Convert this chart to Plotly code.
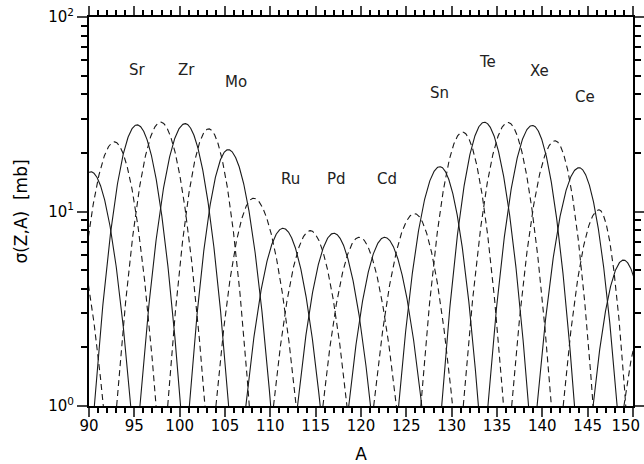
import numpy as np
import plotly.graph_objects as go

# Isotopic distributions: one curve per element (Z)
elements = ["Br", "Kr", "Rb", "Sr", "Y", "Zr", "Nb", "Mo", "Tc", "Ru", "Rh", "Pd", "Ag",
            "Cd", "In", "Sn", "Sb", "Te", "I", "Xe", "Cs", "Ba", "La", "Ce", "Pr"]
peak_A = [87.6, 90.2, 92.8, 95.3, 97.9, 100.6, 103.2, 105.35, 108.15, 111.4, 114.4, 117.0, 119.8,
          122.6, 125.9, 128.7, 131.2, 133.6, 136.2, 138.9, 141.4, 144.05, 146.25, 148.95, 152.5]
peak_sigma = [8.9, 16.0, 22.8, 27.9, 28.8, 28.3, 26.6, 20.8, 11.7, 8.2, 7.97, 7.73, 7.37,
              7.37, 9.75, 17.0, 25.6, 28.8, 28.7, 27.7, 23.1, 16.8, 10.2, 5.63, 3.9]
width_left = [4.2, 4.4, 4.8, 4.71, 4.85, 4.98, 4.52, 4.28, 4.15, 4.1, 4.05, 4.0, 4.0,
              3.95, 4.5, 4.55, 4.6, 4.7, 4.92, 4.9, 4.78, 4.63, 3.95, 3.35, 3.5]
width_right = [3.98, 4.4, 4.6, 4.8, 4.89, 4.8, 4.48, 4.69, 4.7, 4.1, 4.05, 4.05, 4.1,
               4.1, 4.2, 4.25, 4.52, 4.88, 4.8, 4.65, 4.2, 4.2, 2.95, 3.35, 3.5]
dashed = [True, False, True, False, True, False, True, False, True, False, True, False, True,
          False, True, False, True, False, True, False, True, False, True, False, True]

# Element labels shown on the chart
label_text = ["Sr", "Zr", "Mo", "Ru", "Pd", "Cd", "Sn", "Te", "Xe", "Ce"]
label_A = [95.4, 100.7, 106.2, 112.2, 117.35, 122.9, 128.7, 133.9, 139.7, 144.7]
label_sigma = [53.6, 53.6, 46.5, 14.7, 14.7, 14.7, 40.8, 58.9, 53.0, 38.9]

x_ticks = list(range(90, 151, 5))
x_ticktext = [str(v) for v in x_ticks[:-1]] + ["150\u00a0\u00a0\u00a0"]
y_ticks = [1, 10, 100]
y_ticktext = ["10<sup>0</sup>", "10<sup>1</sup>", "10<sup>2</sup>"]

fig = go.Figure()
for name, c, h, wl, wr, d in zip(elements, peak_A, peak_sigma, width_left, width_right, dashed):
    A = np.linspace(c - wl, c + wr, 301)
    w = np.where(A < c, wl, wr)
    logs = np.log10(h) * (1 - ((A - c) / w) ** 2)
    fig.add_trace(go.Scatter(
        x=A, y=10 ** logs, mode="lines", name=name, showlegend=False,
        line=dict(color="#1a1a1a", width=1.1, dash="6px,4px" if d else "solid"),
        hoverinfo="skip"))

for t, xa, ys in zip(label_text, label_A, label_sigma):
    fig.add_annotation(x=xa, y=np.log10(ys), text=t, showarrow=False,
                       font=dict(family="DejaVu Sans", size=15, color="#222"))

fig.update_layout(
    width=644, height=464,
    margin=dict(l=89, r=11, t=17, b=58),
    paper_bgcolor="white", plot_bgcolor="white",
    font=dict(family="DejaVu Sans", size=15, color="black"),
)
fig.update_xaxes(
    range=[90, 150], tickvals=x_ticks, ticktext=x_ticktext,
    ticks="outside", ticklen=9, tickwidth=2,
    showline=True, linewidth=2, linecolor="black", mirror="ticks", showgrid=False,
    zeroline=False, tickfont=dict(size=15), automargin=False, ticklabelstandoff=-4,
    ticklabeloverflow="allow",
    minor=dict(dtick=1, tick0=90, ticks="outside", ticklen=5, tickwidth=1.5, tickcolor="black", showgrid=False),
    title=dict(text="A", font=dict(size=17), standoff=14),
)
fig.update_yaxes(
    type="log", range=[0, 2], tickvals=y_ticks, ticktext=y_ticktext,
    ticks="outside", ticklen=10, tickwidth=2,
    showline=True, linewidth=2, linecolor="black", mirror="ticks", showgrid=False,
    zeroline=False, tickfont=dict(size=15), automargin=False, ticklabeloverflow="allow",
    minor=dict(tickvals=[2, 3, 4, 5, 6, 7, 8, 9, 20, 30, 40, 50, 60, 70, 80, 90],
               ticks="outside", ticklen=6, tickwidth=1.5, tickcolor="black", showgrid=False),
    title=dict(text="σ(Z,A)\u00a0\u00a0[mb]", font=dict(size=17), standoff=16),
)
fig.write_html("out.html", config={"displayModeBar": False},
               post_script="document.body.style.margin='0px';document.body.style.overflow='hidden';")
